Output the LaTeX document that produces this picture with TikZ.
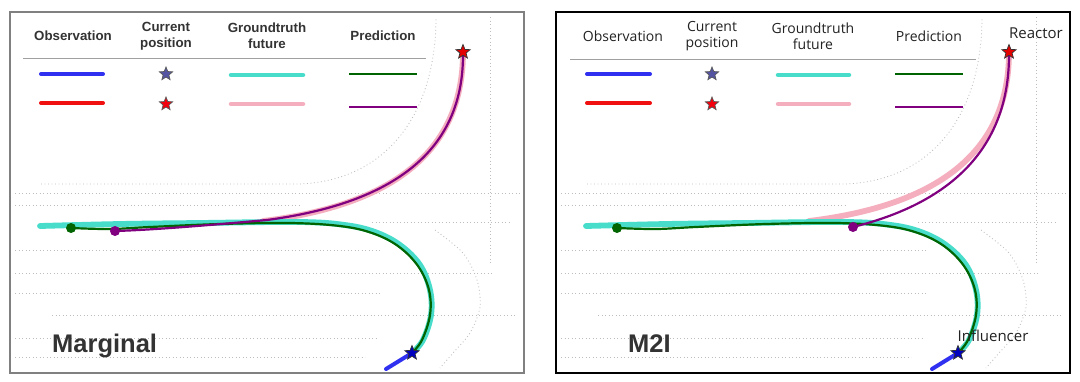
\documentclass[tikz,border=0pt]{standalone}
\usepackage{fontspec}
\setmainfont{Liberation Sans}
\newfontfamily\osans{Open Sans}
\usetikzlibrary{shapes.geometric}
\definecolor{txt}{HTML}{333333}
\definecolor{txtb}{HTML}{222222}
\definecolor{obsblue}{HTML}{3030F0}
\definecolor{obsred}{HTML}{F01010}
\definecolor{gtcyan}{HTML}{48DCCB}
\definecolor{gtpink}{HTML}{F4AEBE}
\definecolor{predgreen}{HTML}{006400}
\definecolor{predpurple}{HTML}{800080}
\definecolor{lanecol}{HTML}{BDBDBD}
\definecolor{rulecol}{HTML}{A0A0A0}
\tikzset{
  lanedot/.style={lanecol, line width=0.8pt, dash pattern=on 0.9pt off 2.6pt},
  obsline/.style={line width=4pt, line cap=round},
  gtline/.style={line width=4.5pt, line cap=round},
  trajgt/.style={line width=5.8pt, line cap=round},
  predline/.style={line width=2.2pt, line cap=round},
  hdrL/.style={font=\fontsize{13.3}{16}\selectfont\bfseries, text=txt, align=center, inner sep=0pt},
  hdrR/.style={font=\osans\fontsize{14}{16}\selectfont, text=txtb, align=center, inner sep=0pt},
  curstar/.style={star, star points=5, star point ratio=2.3, minimum size=14pt, inner sep=0pt, line width=0.7pt},
  enddot/.style={circle, minimum size=10pt, inner sep=0pt},
  panelname/.style={font=\fontsize{25.5}{28}\selectfont\bfseries, text=txt, anchor=base west, inner sep=0pt},
  agentlbl/.style={font=\osans\fontsize{15}{17}\selectfont, text=txtb, inner sep=0pt},
}
\newcommand\drawlanes{%
  \draw[lanedot] (41,184) -- (300,184) .. controls (390,180) and (436,110) .. (436,17);
  \draw[lanedot] (15,193) -- (520,193);
  \draw[lanedot] (15,205) -- (300,205);
  \draw[lanedot] (372,222) -- (510,222);
  \draw[lanedot] (15,250) -- (380,250);
  \draw[lanedot] (15,273) -- (493,273);
  \draw[lanedot] (15,293) -- (380,293);
  \draw[lanedot] (52,315) -- (517,315);
  \draw[lanedot] (15,338) -- (376,338);
  \draw[lanedot] (15,357) -- (365,357);
  \draw[lanedot] (490,17) -- (490,265);
  \draw[lanedot] plot[smooth] coordinates {(435,230) (463,253) (477,280) (480,307) (470,333) (453,353) (440,368)};
}
\newcommand\drawinfluencer{%
  \draw[gtpink, trajgt] (463,52) .. controls (463,150) and (395,205) .. (263,221);
  \draw[gtcyan, trajgt] plot[smooth, tension=0.6] coordinates {(412,353) (423,340) (431,315) (430,290) (420,265) (400,245) (375,232) (345,225) (300,222) (200,223) (120,224) (40,226)};
  \draw[obsblue, obsline] (386,369) -- (412,353);
  \draw[predgreen, predline] plot[smooth, tension=0.6] coordinates {(412,353) (422,340) (430,315) (429,290) (418,266) (398,246) (372,233) (340,226) (290,223) (220,224) (150,227) (110,229) (71,228)};
}
\begin{document}
\begin{tikzpicture}[x=1pt,y=-1pt]
\useasboundingbox (0,0) rectangle (1080,381);
\fill[white] (0,0) rectangle (1080,381);

% ================= LEFT PANEL =================
\draw[gray, line width=1.4pt] (10,12) rectangle (524,373);
\drawlanes
\node[hdrL] (lobs) at (73,36) {Observation};
\node[hdrL] (lcur) at (166,36) {Current\\position};
\node[hdrL] (lgt) at (267,36) {Groundtruth\\future};
\node[hdrL] (lpred) at (383,36) {Prediction};
\draw[rulecol, line width=0.9pt] (23,58) -- (426,58);
\draw[obsblue, obsline] (41,74) -- (103,74);
\node[curstar, fill=obsblue!55!black!75!white, draw=black!65] (lstarb) at (166,74) {};
\draw[gtcyan, gtline] (231,75) -- (303,75);
\draw[predgreen, line width=2.8pt] (349,74) -- (417,74);
\draw[obsred, obsline] (41,103) -- (103,103);
\node[curstar, fill=red!80!purple, draw=black!65] (lstarr) at (166,104) {};
\draw[gtpink, gtline] (231,104) -- (303,104);
\draw[predpurple, line width=2.8pt] (349,107) -- (417,107);

\drawinfluencer
\draw[predpurple, predline] (463,55) .. controls (463,150) and (395,203) .. (267,220) .. controls (200,226) and (150,230) .. (115,231);
\node[enddot, fill=predgreen] (lgdot) at (71,228) {};
\node[enddot, fill=predpurple] (lpdot) at (115,231) {};
\node[curstar, minimum size=15pt, fill=red!90!black, draw=black!80] (lreact) at (463,52) {};
\node[curstar, minimum size=15pt, fill=blue!75!black, draw=black!80] (linfl) at (412,353) {};
\node[panelname] (lname) at (52,352) {Marginal};

% ================= RIGHT PANEL =================
\draw[black, line width=1.4pt] (556,12) rectangle (1070,373);
\begin{scope}[xshift=546pt]
\drawlanes
\node[hdrR] (robs) at (77,36) {Observation};
\node[hdrR] (rcur) at (166,36) {Current\\position};
\node[hdrR] (rgt) at (267,36) {Groundtruth\\future};
\node[hdrR] (rpred) at (383,36) {Prediction};
\draw[rulecol, line width=0.9pt] (24,59) -- (430,59);
\draw[obsblue, obsline] (41,74) -- (104,74);
\node[curstar, fill=obsblue!55!black!75!white, draw=black!65] (rstarb) at (166,74) {};
\draw[gtcyan, gtline] (232,75) -- (303,75);
\draw[predgreen, line width=2.8pt] (349,74) -- (417,74);
\draw[obsred, obsline] (41,103) -- (104,103);
\node[curstar, fill=red!80!purple, draw=black!65] (rstarr) at (166,104) {};
\draw[gtpink, gtline] (232,104) -- (303,104);
\draw[predpurple, line width=2.8pt] (349,107) -- (417,107);

\drawinfluencer
\draw[predpurple, predline] (463,55) .. controls (463,152) and (400,204) .. (307,227);
\node[enddot, fill=predgreen] (rgdot) at (71,228) {};
\node[enddot, fill=predpurple] (rpdot) at (307,227) {};
\node[curstar, minimum size=15pt, fill=red!90!black, draw=black!80] (rreact) at (463,52) {};
\node[curstar, minimum size=15pt, fill=blue!75!black, draw=black!80] (rinfl) at (412,353) {};
\node[agentlbl] (rreactlbl) at (490,33) {Reactor};
\node[agentlbl] (rinfllbl) at (447,336) {Influencer};
\node[panelname] (rname) at (82,352) {M2I};
\end{scope}
\end{tikzpicture}
\end{document}
